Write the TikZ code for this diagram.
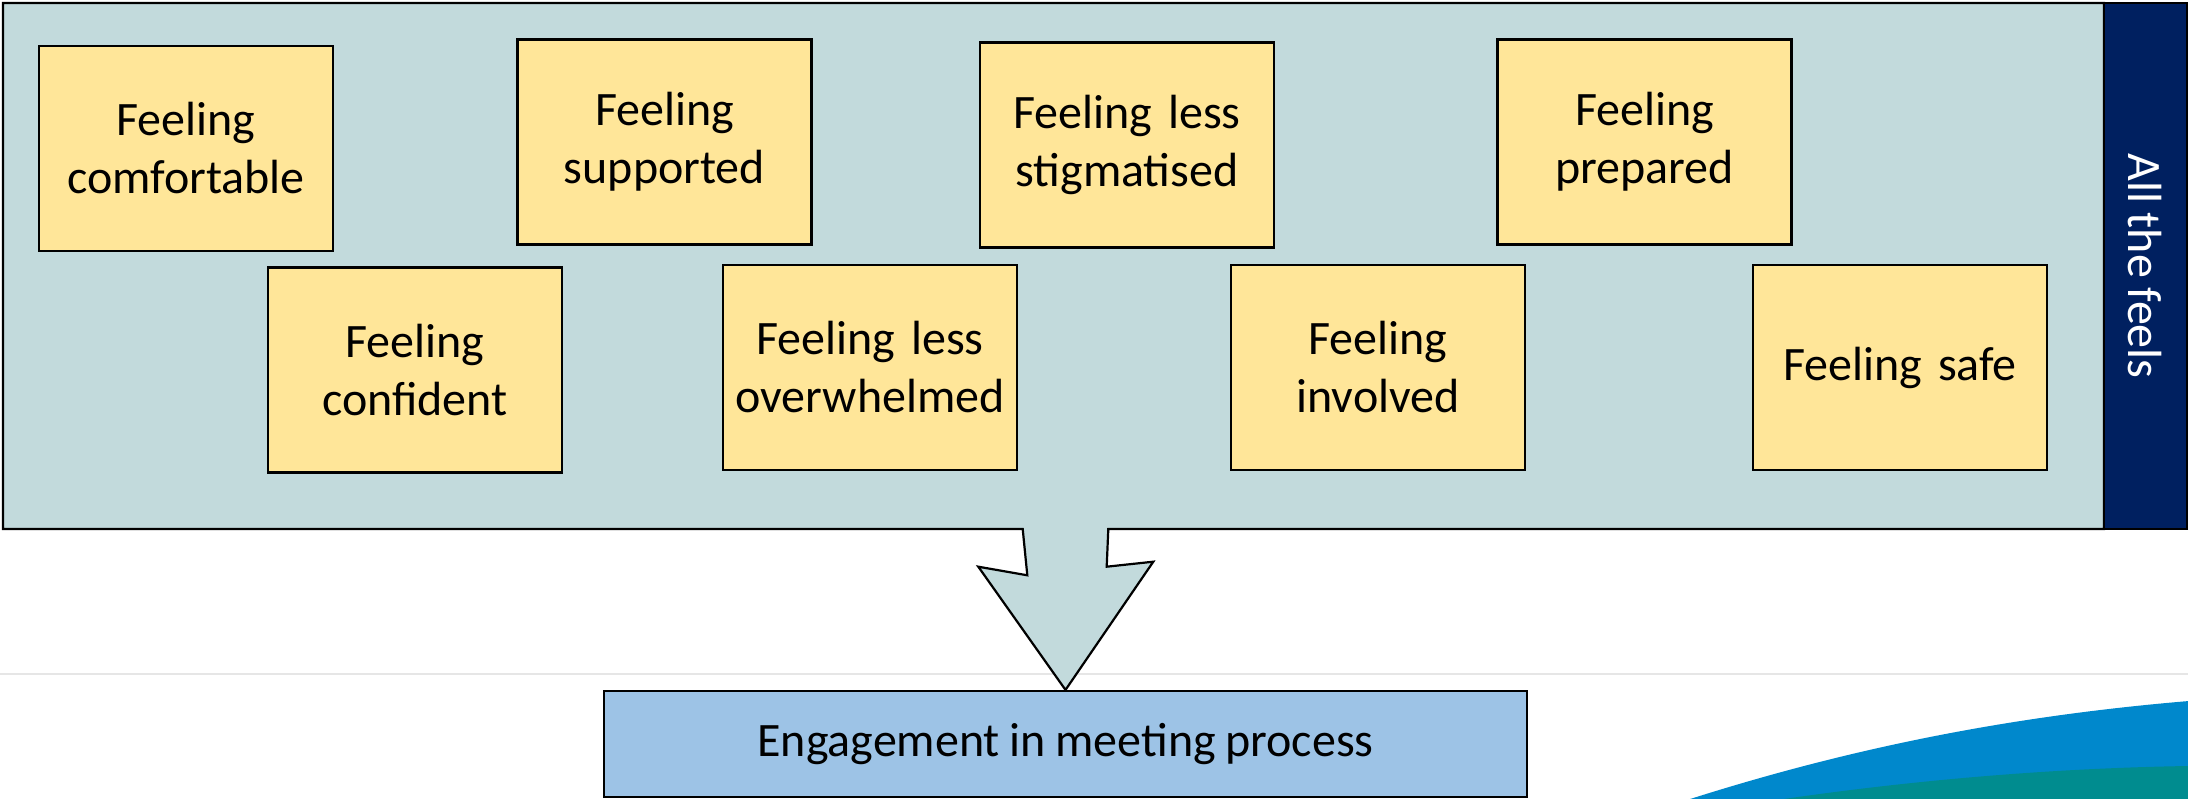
\documentclass[tikz,border=0pt]{standalone}
\usepackage{fontspec}
\setmainfont{Carlito}
\definecolor{panelfill}{HTML}{C2DADC}
\definecolor{feelfill}{HTML}{FFE699}
\definecolor{barnavy}{HTML}{002060}
\definecolor{engagefill}{HTML}{9DC3E6}
\definecolor{waveblue}{HTML}{0088CC}
\definecolor{waveteal}{HTML}{008C8F}
\definecolor{ruleline}{HTML}{E6E6E6}
% large slide text with a slightly tighter word space
\newcommand{\slidefont}{\fontsize{48}{58}\selectfont\spaceskip=9.6pt plus 3pt minus 2pt\relax}
\begin{document}
\begin{tikzpicture}[x=1pt,y=-1pt,
  outline/.style={draw=black, line width=2.2pt, line join=miter},
  bigtext/.style={font=\slidefont},
  feel/.style={outline, bigtext, fill=feelfill, minimum width=294pt, minimum height=205pt,
    text width=290pt, align=center, inner sep=0pt},
  engagebox/.style={outline, bigtext, fill=engagefill, minimum width=923pt, minimum height=106pt,
    inner sep=0pt}]
\useasboundingbox (0,0) rectangle (2188,799);

% faint horizontal rule across the slide
\draw[ruleline, line width=1.5pt] (0,674) -- (2188,674);

% decorative waves in the lower right corner
\fill[waveblue] (1687,800) .. controls (1850,748) and (2010,716) .. (2189,701) -- (2189,800) -- cycle;
\fill[waveteal] (1777,800) .. controls (1920,779) and (2060,768) .. (2189,766) -- (2189,800) -- cycle;

% outcome box
\node[engagebox] (engage) at (1065.5,744) {Engagement in meeting process};

% panel with the block arrow pointing down to the outcome
\coordinate (pnw) at (3,3);
\coordinate (pne) at (2104,3);
\coordinate (pse) at (2104,529);
\coordinate (psw) at (3,529);
\filldraw[outline, fill=panelfill]
  (pnw) -- (pne) -- (pse) -- (1108.3,529) -- (1106.7,566.7) -- (1153.3,561.7)
  -- (engage.north) -- (978.3,566.7) -- (1027.3,575.3) -- (1022.7,529)
  -- (psw) -- cycle;

% side label bar
\filldraw[outline, fill=barnavy] (2104,3) rectangle (2187,529);
\node[text=white, rotate=-90, bigtext] (feels) at (2145,266) {All the feels};

% the feelings
\node[feel] (comfortable) at (186,148.5) {Feeling\\comfortable};
\node[feel] (supported)   at (664.5,142) {Feeling\\supported};
\node[feel] (stigma)      at (1127,145) {Feeling less\\stigmatised};
\node[feel] (prepared)    at (1644.5,142) {Feeling\\prepared};
\node[feel] (confident)   at (415,370) {Feeling\\confident};
\node[feel] (overwhelmed) at (870,367.5) {Feeling less\\overwhelmed};
\node[feel] (involved)    at (1378,367.5) {Feeling\\involved};
\node[feel] (safe)        at (1900,367.5) {Feeling safe};
\end{tikzpicture}
\end{document}
